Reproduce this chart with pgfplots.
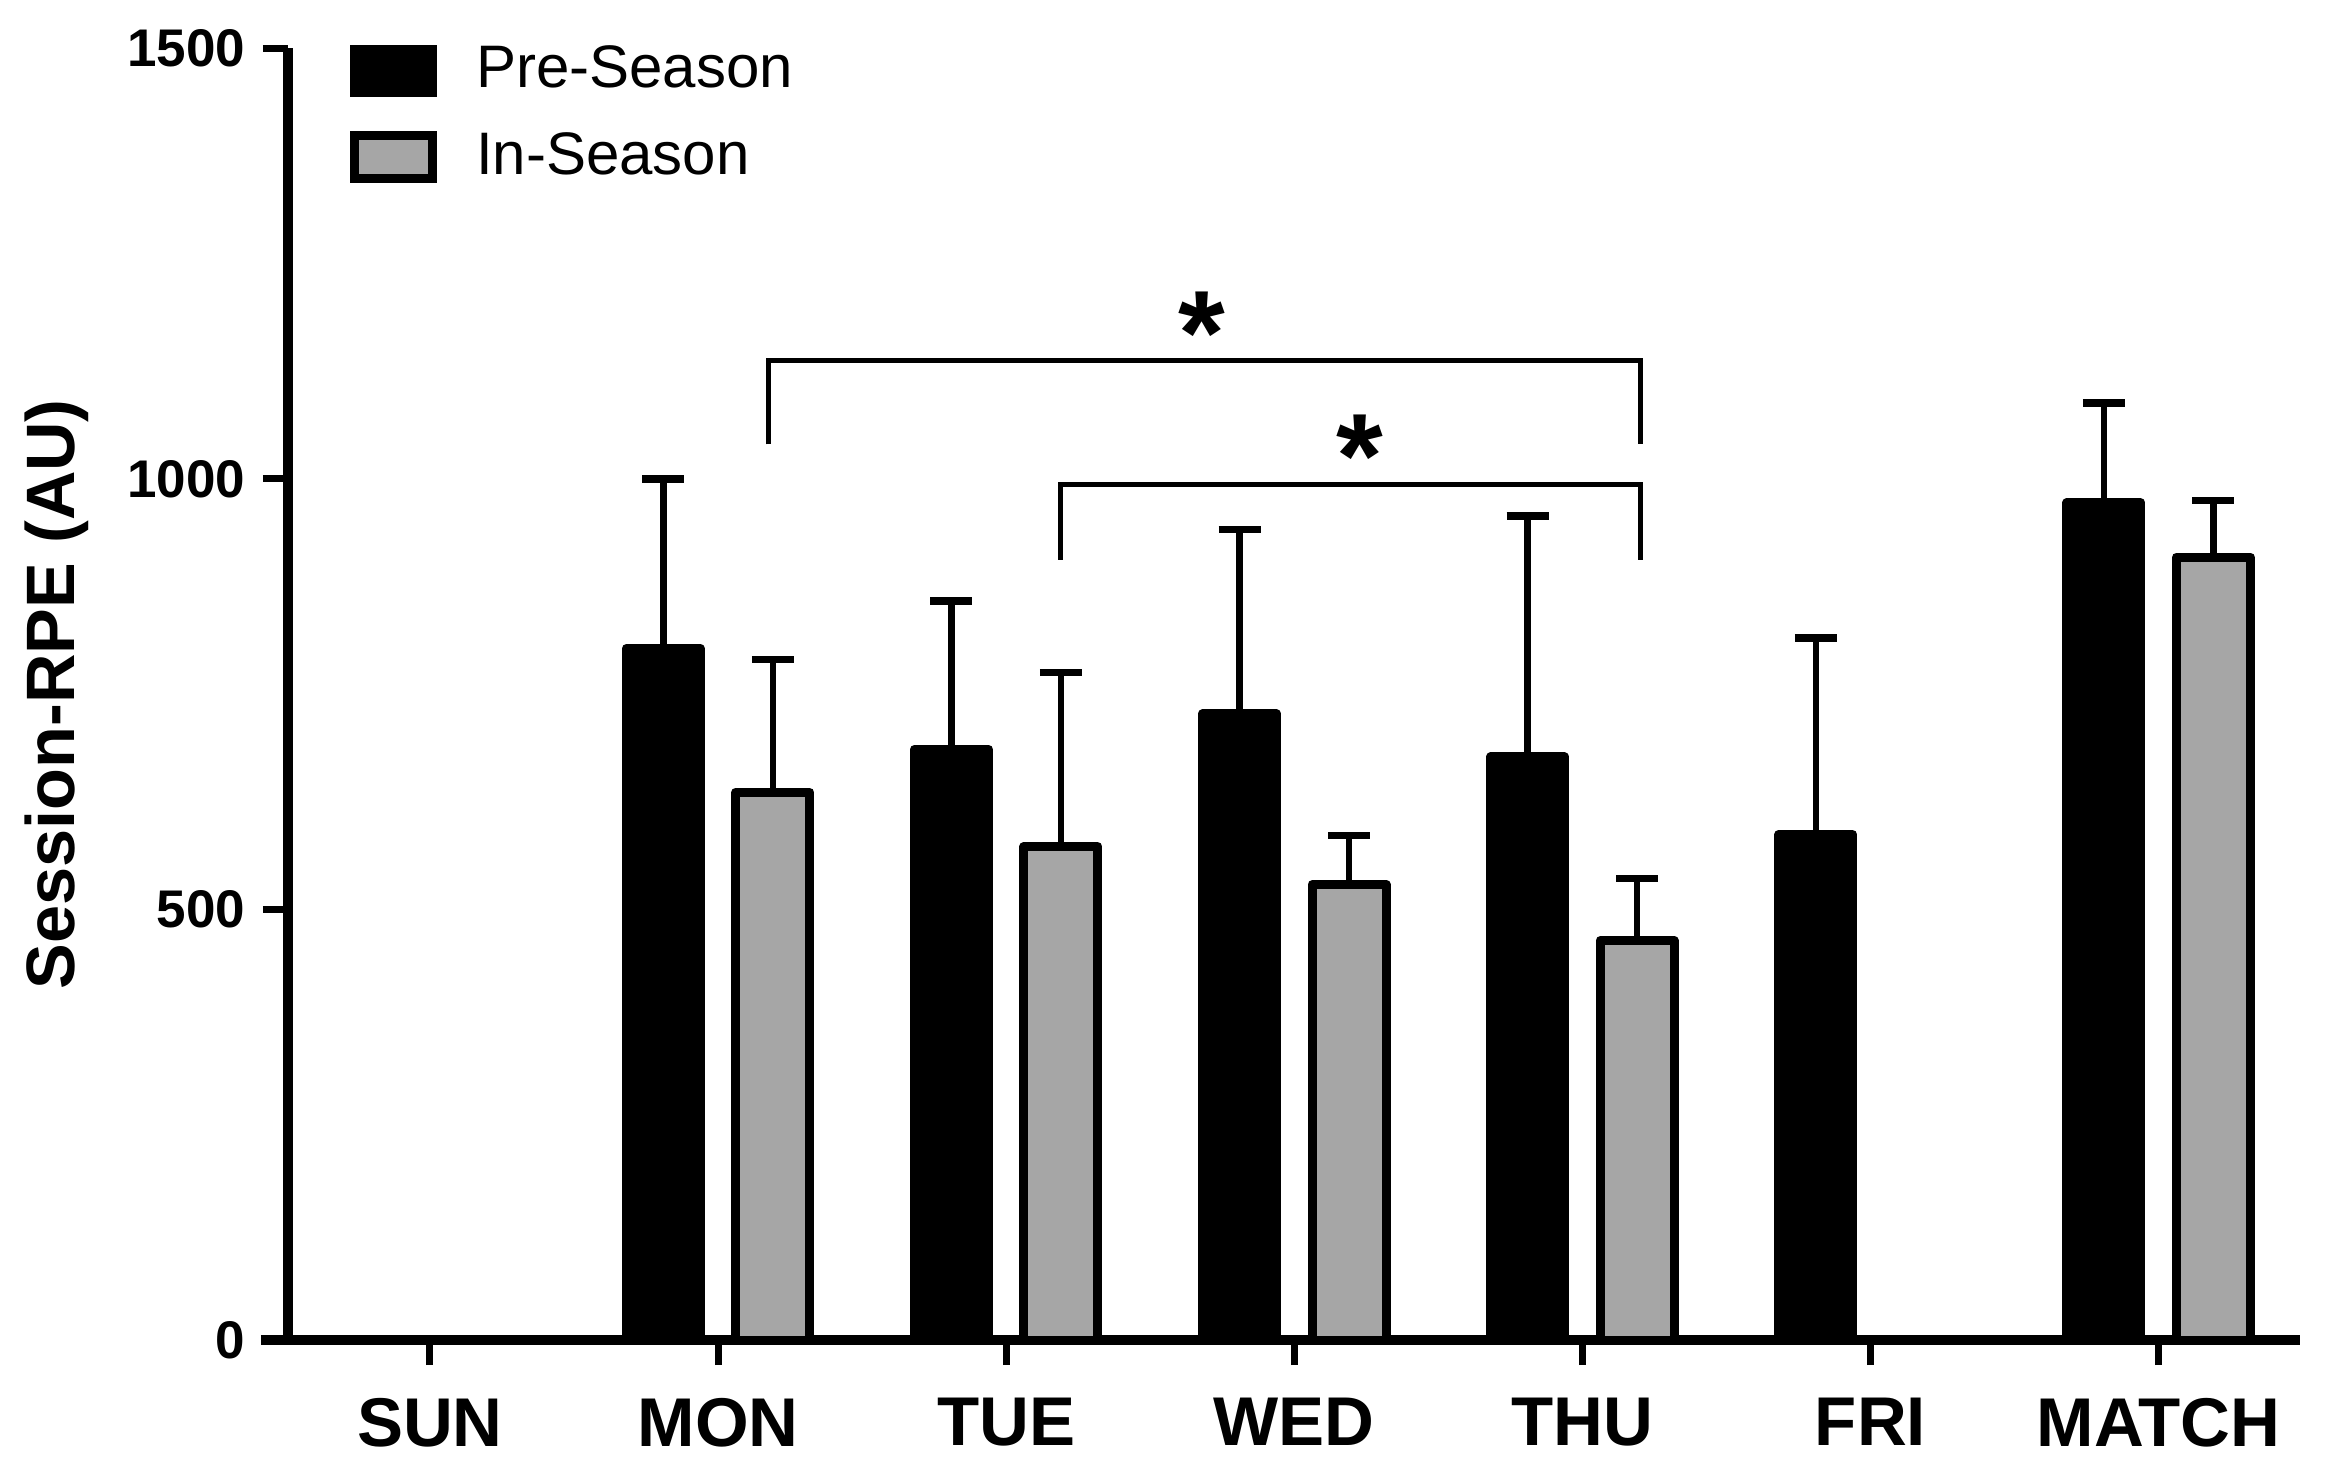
\documentclass[border=0pt]{standalone}
\usepackage{fontspec}
\setmainfont{Liberation Sans}
\usepackage{pgfplots}
\pgfplotsset{compat=1.18}
\definecolor{ingrey}{RGB}{166,166,166}
\begin{document}
\begin{tikzpicture}
\begin{axis}[
  scale only axis,
  width=402.4pt, height=258.4pt,
  xmin=-0.493, xmax=6.491, ymin=0, ymax=1500,
  axis lines=left,
  axis line style={-, line width=1.9pt, black},
  x axis line style={shorten <=-5.4pt},
  tick align=outside,
  major tick length=5pt,
  tick style={line width=1.4pt, black},
  xtick={0,1,2,3,4,5,6},
  xticklabels={SUN,MON,TUE,WED,THU,FRI,MATCH},
  ytick={0,500,1000,1500},
  yticklabels={0,500,1000,1500},
  xticklabel style={font=\bfseries\fontsize{13.8}{16}\selectfont, yshift=-3pt},
  yticklabel style={font=\bfseries\fontsize{10.6}{12}\selectfont},
  ylabel={Session-RPE (AU)},
  ylabel style={font=\bfseries\fontsize{13.7}{16}\selectfont, at={(axis description cs:-0.1061,0.5)}, anchor=base},
  clip=false,
  legend image code/.code={\draw[#1] (0pt,-4.3pt) rectangle (15.5pt,4.3pt);},
  legend cell align=left,
  legend style={draw=none, fill=none, at={(axis description cs:0.0311,1.0093)}, anchor=north west,
    inner sep=0pt, outer sep=0pt, row sep=3.4pt, column sep=5.8pt, font=\fontsize{12}{14}\selectfont},
]
\addlegendimage{fill=black, draw=black, line width=1.8pt}
\addlegendentry{Pre-Season}
\addlegendimage{fill=ingrey, draw=black, line width=1.8pt}
\addlegendentry{In-Season}

% Pre-Season (bars placed 0.19 left of each day)
\addplot[ybar, bar width=14.8pt, bar shift=0pt, fill=black, draw=black, line width=1.8pt, line join=round, forget plot,
  error bars/.cd, y dir=plus, y explicit,
  error bar style={line width=1.3pt, black},
  error mark options={rotate=90, mark size=4.2pt, line width=1.5pt, black}]
coordinates {
 (0.81,803) +- (0,197)
 (1.81,686) +- (0,172)
 (2.81,727) +- (0,214)
 (3.81,677) +- (0,280)
 (4.81,587) +- (0,228)
 (5.81,972) +- (0,116)
};
% In-Season (bars placed 0.19 right of each day)
\addplot[ybar, bar width=14.8pt, bar shift=0pt, fill=ingrey, draw=black, line width=1.8pt, line join=round, forget plot,
  error bars/.cd, y dir=plus, y explicit,
  error bar style={line width=1.3pt, black},
  error mark options={rotate=90, mark size=4.2pt, line width=1.5pt, black}]
coordinates {
 (1.19,636) +- (0,154)
 (2.19,573) +- (0,202)
 (3.19,529) +- (0,57)
 (4.19,464) +- (0,72)
 (6.19,909) +- (0,66)
};

\draw[line width=1pt] (axis cs:1.175,1040) -- (axis cs:1.175,1137) -- (axis cs:4.2,1137) -- (axis cs:4.2,1040);
\draw[line width=1pt] (axis cs:2.19,906) -- (axis cs:2.19,993) -- (axis cs:4.2,993) -- (axis cs:4.2,906);
\node[font=\bfseries\fontsize{24}{24}\selectfont, anchor=base, inner sep=0pt] at (axis cs:2.68,1121) {*};
\node[font=\bfseries\fontsize{24}{24}\selectfont, anchor=base, inner sep=0pt] at (axis cs:3.228,978) {*};

\path (axis description cs:-0.1431,-0.1107) rectangle (axis description cs:1.0134,1.0372);
\end{axis}
\end{tikzpicture}
\end{document}
